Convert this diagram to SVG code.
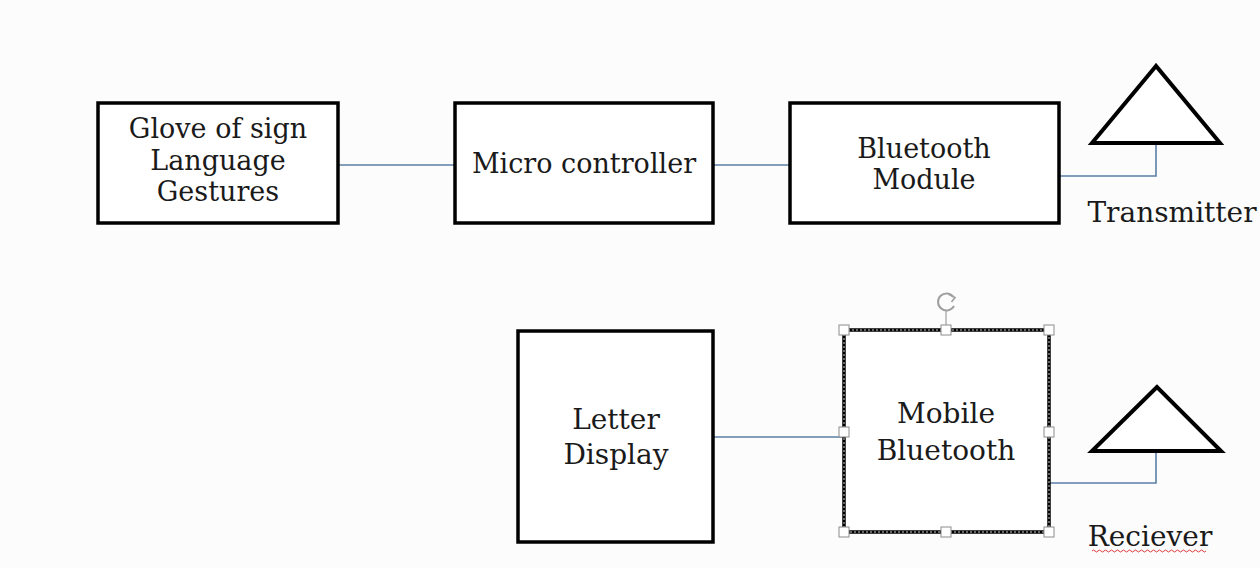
<svg xmlns="http://www.w3.org/2000/svg" width="1260" height="568" viewBox="0 0 1260 568">
  <style>
    .box { fill: #ffffff; stroke: #000000; stroke-width: 3.5; }
    .ant { fill: #ffffff; stroke: #000000; stroke-width: 4; stroke-linejoin: miter; }
    .wire { fill: none; stroke: #5a7fa6; stroke-width: 1.6; }
    .lbl { font-family: "DejaVu Serif", "Liberation Serif", serif; font-size: 27px; fill: #1a1a1a; text-anchor: middle; }
    .lbl2 { font-family: "DejaVu Serif", "Liberation Serif", serif; font-size: 28px; fill: #1a1a1a; text-anchor: middle; }
    .handle { fill: #ffffff; stroke: #8c8c8c; stroke-width: 1; }
  </style>
  <rect x="0" y="0" width="1260" height="568" fill="#fcfcfc"/>

  <!-- connectors -->
  <g id="connectors">
    <line class="wire" x1="338" y1="165" x2="455" y2="165"/>
    <line class="wire" x1="713" y1="165" x2="790" y2="165"/>
    <polyline class="wire" points="1060,176 1156,176 1156,145"/>
    <line class="wire" x1="713" y1="437" x2="844" y2="437"/>
    <polyline class="wire" points="1049,483 1156,483 1156,453"/>
  </g>

  <g id="glove">
    <rect class="box" x="98" y="103" width="240" height="120"/>
    <text class="lbl" x="218" y="138">Glove of sign</text>
    <text class="lbl" x="218" y="170">Language</text>
    <text class="lbl" x="218" y="201">Gestures</text>
  </g>

  <g id="microcontroller">
    <rect class="box" x="455" y="103" width="258" height="120"/>
    <text class="lbl" x="584" y="173">Micro controller</text>
  </g>

  <g id="bt-module">
    <rect class="box" x="790" y="103" width="269" height="120"/>
    <text class="lbl" x="924" y="158">Bluetooth</text>
    <text class="lbl" x="924" y="189">Module</text>
  </g>

  <g id="transmitter">
    <polygon class="ant" points="1156,66 1092,143 1220,143"/>
    <text class="lbl2" x="1172" y="222">Transmitter</text>
  </g>

  <g id="letter-display">
    <rect class="box" x="518" y="331" width="195" height="211"/>
    <text class="lbl2" x="616" y="429">Letter</text>
    <text class="lbl2" x="616" y="464">Display</text>
  </g>

  <g id="mobile-bt">
    <rect class="box" x="844" y="330" width="205" height="202" stroke-width="4.5"/>
    <rect x="844" y="330" width="205" height="202" fill="none" stroke="#ffffff" stroke-width="0.8" stroke-dasharray="2 2"/>
    <text class="lbl2" x="946" y="423">Mobile</text>
    <text class="lbl2" x="946" y="460">Bluetooth</text>
    <!-- selection frame -->
    <line x1="946" y1="311" x2="946" y2="326" stroke="#8c8c8c" stroke-width="1"/>
    <path d="M953.5,297 A8.5,8.5 0 1 0 954,306" fill="none" stroke="#a0a0a0" stroke-width="2"/>
    <path d="M949,294.5 L955,297.5 L951.5,302" fill="none" stroke="#a0a0a0" stroke-width="1.6"/>
    <rect class="handle" x="839" y="325" width="10" height="10"/>
    <rect class="handle" x="941" y="325" width="10" height="10"/>
    <rect class="handle" x="1044" y="325" width="10" height="10"/>
    <rect class="handle" x="839" y="427" width="10" height="10"/>
    <rect class="handle" x="1044" y="427" width="10" height="10"/>
    <rect class="handle" x="839" y="527" width="10" height="10"/>
    <rect class="handle" x="941" y="527" width="10" height="10"/>
    <rect class="handle" x="1044" y="527" width="10" height="10"/>
  </g>

  <g id="receiver">
    <polygon class="ant" points="1157,387 1092,451 1221,451"/>
    <text class="lbl2" x="1150" y="546">Reciever</text>
    <path d="M1092,551 q1.5,-2 3,0 t3,0 t3,0 t3,0 t3,0 t3,0 t3,0 t3,0 t3,0 t3,0 t3,0 t3,0 t3,0 t3,0 t3,0 t3,0 t3,0 t3,0 t3,0 t3,0 t3,0 t3,0 t3,0 t3,0 t3,0 t3,0 t3,0 t3,0 t3,0 t3,0 t3,0 t3,0 t3,0 t3,0 t3,0 t3,0 t3,0 t3,0" fill="none" stroke="#e03a3a" stroke-width="1"/>
  </g>
</svg>
